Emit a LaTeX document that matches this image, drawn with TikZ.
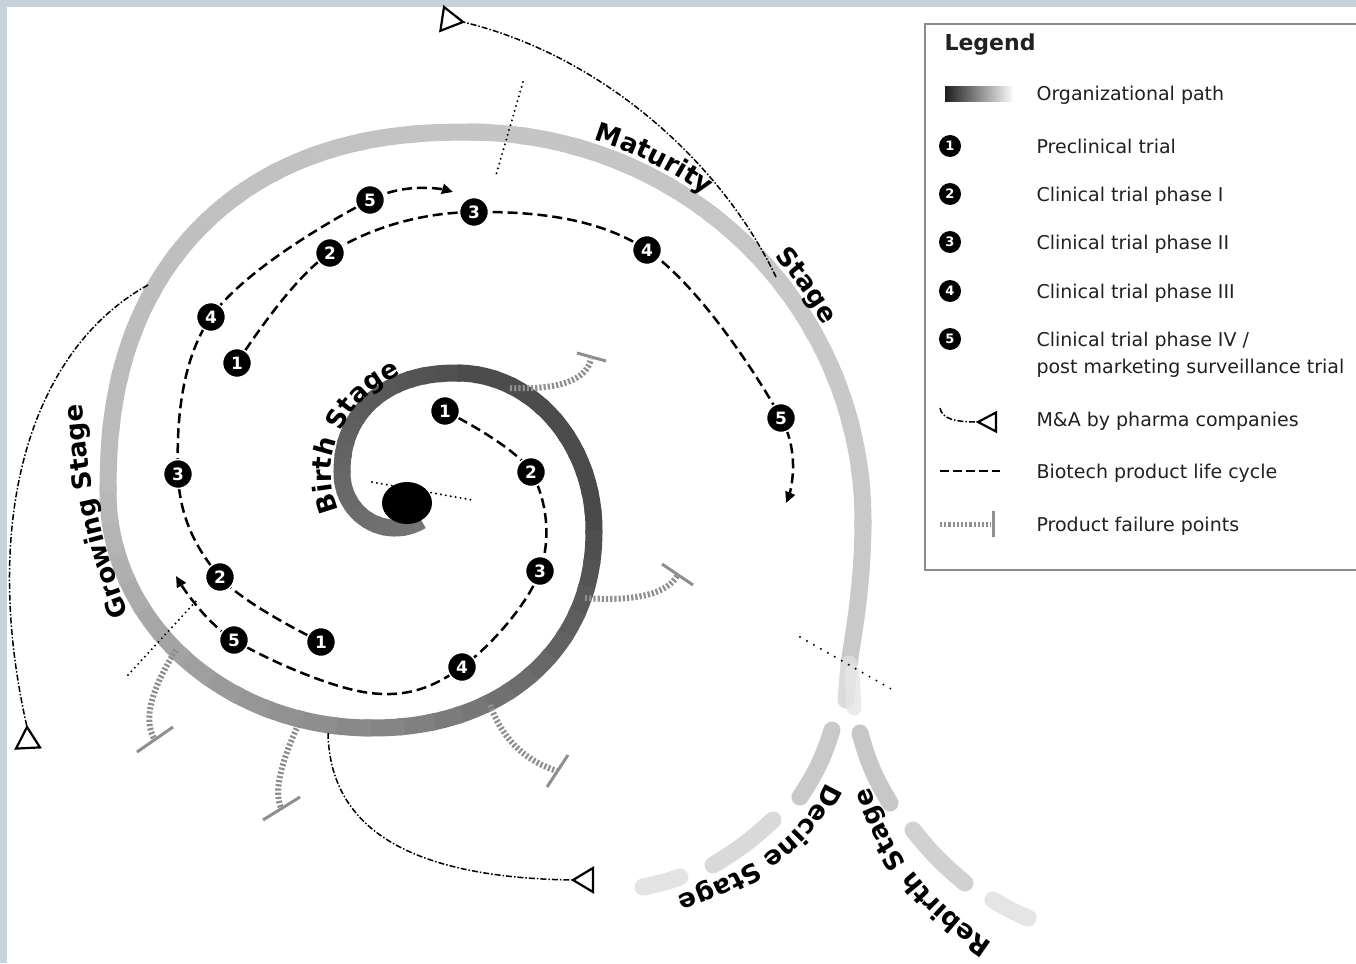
\documentclass[tikz,border=0pt]{standalone}
\usepackage{fontspec}
\setmainfont{DejaVu Sans}
\usetikzlibrary{arrows.meta,decorations.text}
\pgfdeclarelayer{bg}
\pgfsetlayers{bg,main}
\definecolor{framec}{RGB}{200,210,218}
\definecolor{failc}{gray}{0.56}
\definecolor{legtxt}{gray}{0.13}
\definecolor{legbox}{gray}{0.55}
\newcommand\stagefnt{\bfseries\fontsize{26}{26}\selectfont}
\begin{document}
\begin{tikzpicture}[x=1pt,y=1pt,
  num/.style={circle, fill=black, draw=white, line width=1.5pt, minimum size=29pt, inner sep=0pt, text=white, font=\bfseries\fontsize{17}{17}\selectfont},
  lnum/.style={circle, fill=black, minimum size=22pt, inner sep=0pt, text=white, font=\bfseries\fontsize{13}{13}\selectfont},
  cyc/.style={line width=2.5pt, dash pattern=on 10pt off 5pt, -{Triangle[length=11pt,width=10pt]}},
  madash/.style={line width=1.5pt, dash pattern=on 6pt off 2pt on 1.5pt off 2pt},
  tri/.style={line width=2.2pt, fill=white, line join=miter},
  failp/.style={line width=6pt, dash pattern=on 2.2pt off 2pt, draw=failc},
  failbar/.style={line width=3pt, draw=failc},
  divd/.style={line width=2.2pt, line cap=round, dash pattern=on 0pt off 5pt},
  branch/.style={line width=17pt, line cap=round},
  legtext/.style={anchor=base west, text=legtxt, font=\fontsize{19}{19}\selectfont},
]
\useasboundingbox (0,0) rectangle (1356,-963);

% ---------- numbered nodes ----------
\node[num] (a1) at (445,-411) {1};
\node[num] (a2) at (531,-472) {2};
\node[num] (a3) at (540,-571) {3};
\node[num] (a4) at (462,-667) {4};
\node[num] (a5) at (234,-640) {5};
\coordinate (ab) at (370,-693);
\coordinate (ae) at (176,-576);
\node[num] (b1) at (321,-642) {1};
\node[num] (b2) at (220,-577) {2};
\node[num] (b3) at (178,-474) {3};
\node[num] (b4) at (211,-317) {4};
\node[num] (b5) at (370,-200) {5};
\coordinate (be) at (453,-192);
\node[num] (c1) at (237,-363) {1};
\node[num] (c2) at (330,-253) {2};
\node[num] (c3) at (474,-212) {3};
\node[num] (c4) at (647,-250) {4};
\node[num] (c5) at (781,-418) {5};
\coordinate (ce) at (786,-503);

\begin{pgfonlayer}{bg}
\fill[framec] (0,0) rectangle (1356,-963);
\fill[white] (7,-7) rectangle (1356,-963);
% ---------- organizational spiral ----------
\foreach \cx/\cy/\rx/\ry/\ta/\tb/\ga/\gb/\ee in {
  395/473/53/55/-60/-180/0.46/0.40/1,
  457/473/115/100/180/90/0.40/0.31/0.9,
  457/530/137/157/90/0/0.30/0.29/1,
  371/530/223/198/0/-90/0.30/0.53/0.93,
  371/492/263/236/-90/-180/0.53/0.73/1,
  468/492/360/360/180/90/0.73/0.77/0.87,
  468/520/395/388/90/0/0.77/0.79/1}{
  \foreach \i in {0,...,11}{
    \pgfmathsetmacro\tA{\ta+(\tb-\ta)*\i/12}
    \pgfmathsetmacro\tD{(\tb-\ta)*1.2/12}
    \pgfmathsetmacro\pc{100-100*(\ga+(\gb-\ga)*(\i+0.5)/12)}
    \draw[line width=17pt, color=black!\pc] plot[domain=0:1, samples=5, variable=\s]
      ({\cx+\rx*cos(\tA+(\tD)*\s)*(abs(cos(\tA+(\tD)*\s))+0.00001)^(\ee-1)},
       {-\cy+\ry*sin(\tA+(\tD)*\s)*(abs(sin(\tA+(\tD)*\s))+0.00001)^(\ee-1)});
  }
}
% tail
\draw[line width=17pt, black!21] (863,-519) .. controls (863,-590) and (852,-640) .. (849,-665);
\draw[line width=17pt, line cap=round, black!14] (849,-664) -- (846,-700);
\draw[line width=15pt, line cap=round, black!10, opacity=0.8] (852,-672) -- (854,-708);

% decline / rebirth branches
\draw[branch, black!21] (832,-730) to[bend left=8] (800,-797);
\draw[branch, black!15] (773,-820) to[bend left=6] (713,-865);
\draw[branch, black!11] (680,-877) to[bend left=4] (643,-887);
\draw[branch, black!22] (860,-733) to[bend right=8] (890,-803);
\draw[branch, black!18] (913,-830) to[bend right=6] (965,-883);
\draw[branch, black!10] (993,-900) to[bend right=4] (1028,-918);

% ---------- product failure points ----------
\coordinate (f1a) at (510,-388); \coordinate (f1b) at (591,-359);
\coordinate (f2a) at (585,-598); \coordinate (f2b) at (677,-576);
\coordinate (f3a) at (490,-705); \coordinate (f3b) at (557,-771);
\coordinate (f4a) at (302,-717); \coordinate (f4b) at (281,-808);
\coordinate (f5a) at (176,-650); \coordinate (f5b) at (155,-740);
\draw[failp] (f1a) .. controls (560,-390) and (586,-380) .. (f1b);
\draw[failbar] (577,-353) -- (606,-361);
\draw[failp] (f2a) .. controls (640,-602) and (668,-592) .. (f2b);
\draw[failbar] (662,-564) -- (693,-585);
\draw[failp] (f3a) .. controls (505,-745) and (530,-762) .. (f3b);
\draw[failbar] (547,-787) -- (568,-755);
\draw[failp] (f4a) .. controls (286,-750) and (272,-788) .. (f4b);
\draw[failbar] (263,-820) -- (300,-797);
\draw[failp] (f5a) .. controls (152,-688) and (142,-720) .. (f5b);
\draw[failbar] (137,-752) -- (173,-727);

% ---------- stage dividers ----------
\coordinate (d1a) at (372,-482); \coordinate (d1b) at (472,-500);
\coordinate (d2a) at (523,-82);  \coordinate (d2b) at (496,-175);
\coordinate (d3a) at (800,-637); \coordinate (d3b) at (893,-690);
\coordinate (d4a) at (128,-675); \coordinate (d4b) at (198,-599);
\draw[divd] (d1a) -- (d1b);
\draw[divd] (d2a) -- (d2b);
\draw[divd, dash pattern=on 0pt off 8pt] (d3a) -- (d3b);
\draw[divd] (d4a) -- (d4b);

% blob
\fill[black] (407,-503) ellipse [x radius=25, y radius=21];

% ---------- product life cycles ----------
\draw[cyc] plot[smooth, tension=0.6] coordinates {(a1.center) (a2.center) (a3.center) (a4.center) (ab) (a5.center) (ae)};
\draw[cyc] plot[smooth, tension=0.6] coordinates {(b1.center) (b2.center) (b3.center) (b4.center) (b5.center) (be)};
\draw[cyc] plot[smooth, tension=0.6] coordinates {(c1.center) (c2.center) (c3.center) (c4.center) (c5.center) (ce)};
\end{pgfonlayer}

% ---------- M&A by pharma companies ----------
\coordinate (m1s) at (776,-277); \coordinate (t1) at (463,-22);
\coordinate (m2s) at (148,-285); \coordinate (t2) at (27,-727);
\coordinate (m3s) at (328,-733); \coordinate (t3) at (573,-880);
\draw[madash] (m1s) .. controls (720,-160) and (600,-55) .. (t1);
\draw[madash] (m2s) .. controls (30,-350) and (-20,-520) .. (t2);
\draw[madash] (m3s) .. controls (330,-840) and (430,-878) .. (t3);
\draw[tri] (t1) -- (444,-7) -- (440.4,-30.8) -- cycle;
\draw[tri] (t2) -- (40,-747.4) -- (16,-748.6) -- cycle;
\draw[tri] (t3) -- (593,-868) -- (593,-892) -- cycle;

% ---------- stage labels ----------
\path[decorate, decoration={text along path, text align=left, text={|\stagefnt|Birth Stage}}]
  plot[domain=0:1, samples=40, variable=\s] ({457+126*cos(200-115*\s)},{-473+110*sin(200-115*\s)});
\path[decorate, decoration={text along path, text align=left, text={|\stagefnt|Growing Stage}}]
  (129,-614) .. controls (100,-540) and (84,-470) .. (82,-385);
\path[decorate, decoration={text along path, text align=left, text={|\stagefnt|Maturity}}]
  plot[domain=0:1, samples=30, variable=\s] ({468+407*cos(72-27*\s)},{-520+400*sin(72-27*\s)});
\path[decorate, decoration={text along path, text align=left, text={|\stagefnt|Stage}}]
  plot[domain=0:1, samples=30, variable=\s] ({468+407*cos(41.2-22*\s)},{-520+400*sin(41.2-22*\s)});
\path[decorate, decoration={text along path, text align=left, text={|\stagefnt|Decine Stage}}]
  (826,-782) .. controls (805,-830) and (760,-872) .. (660,-902);
\path[decorate, decoration={text along path, text align=left, text={|\stagefnt|Rebirth Stage}}]
  (993,-943) .. controls (930,-901) and (880,-846) .. (862,-758);

% ---------- legend ----------
\draw[line width=2.5pt, legbox] (925,-24) rectangle (1380,-570);
\node[anchor=base west, text=legtxt, font=\bfseries\fontsize{22}{22}\selectfont] (lgtitle) at (941,-51) {Legend};
\shade[left color=black!88, right color=black!3] (945,-87) rectangle (1012,-102);
\node[legtext] (lg0) at (1033,-101) {Organizational path};
\node[lnum] (ln1) at (950,-146) {1};
\node[legtext] (lg1) at (1033,-153) {Preclinical trial};
\node[lnum] (ln2) at (950,-194) {2};
\node[legtext] (lg2) at (1033,-201) {Clinical trial phase I};
\node[lnum] (ln3) at (950,-242) {3};
\node[legtext] (lg3) at (1033,-249) {Clinical trial phase II};
\node[lnum] (ln4) at (950,-291) {4};
\node[legtext] (lg4) at (1033,-298) {Clinical trial phase III};
\node[lnum] (ln5) at (950,-339) {5};
\node[legtext] (lg5) at (1033,-346) {Clinical trial phase IV /};
\node[legtext] (lg5b) at (1033,-373) {post marketing surveillance trial};
\coordinate (lma) at (940,-408); \coordinate (lmt) at (978,-422);
\draw[madash] (lma) .. controls (942,-419) and (955,-422) .. (lmt);
\draw[tri] (lmt) -- (996,-412.5) -- (996,-431.5) -- cycle;
\node[legtext] (lg6) at (1033,-426) {M\&A by pharma companies};
\coordinate (lba) at (940,-471); \coordinate (lbb) at (1000,-471);
\draw[line width=2.2pt, dash pattern=on 9pt off 4pt] (lba) -- (lbb);
\node[legtext] (lg7) at (1033,-478) {Biotech product life cycle};
\coordinate (lfa) at (940,-524); \coordinate (lfb) at (991,-524);
\draw[failp, line width=5pt] (lfa) -- (lfb);
\draw[failbar] (993,-511) -- (993,-537);
\node[legtext] (lg8) at (1033,-531) {Product failure points};
\end{tikzpicture}
\end{document}
